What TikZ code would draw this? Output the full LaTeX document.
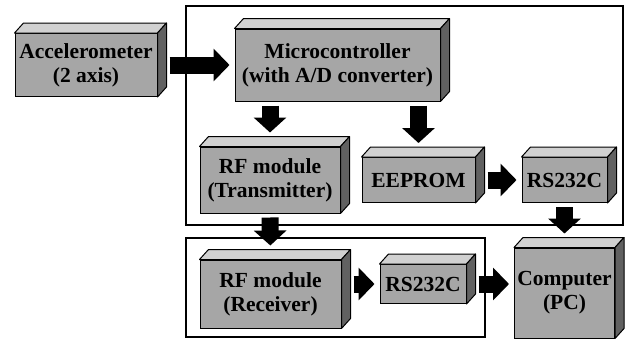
\documentclass[tikz,border=0pt]{standalone}
\usepackage{fontspec}
\setmainfont{Liberation Serif}
\usetikzlibrary{arrows.meta}
\usetikzlibrary{calc}
\usetikzlibrary{positioning}

\begin{document}
\begin{tikzpicture}
    [   x = 1pt, y = -1pt
    ,   block/.style = {draw, line width = 1pt, fill = black!35, inner sep = 0pt, align = center, font = \fontsize{21.5}{24}\selectfont\bfseries}
    ,   topface/.style = {draw, line width = 1pt, fill = black!18, line join = round}
    ,   sideface/.style = {draw, line width = 1pt, fill = black!62, line join = round}
    ,   boxframe/.style = {draw, line width = 2.5pt}
    ,   harrow/.style = {line width = 17pt, -{Triangle[length = 16pt, width = 32pt]}, shorten <= 12pt, shorten >= 5pt}
    ,   varrow/.style = {line width = 17pt, -{Triangle[length = 15pt, width = 32pt]}, shorten <= 4pt, shorten >= 14pt}
    ]
    \useasboundingbox (0,0) rectangle (626,340);

    \draw[boxframe] (186,6) rectangle (623,225);
    \draw[boxframe] (186,238) rectangle (485,337);

    \node[block, minimum width = 142pt, minimum height = 63pt] (acc) at (86,65) {Accelerometer\\(2 axis)};
    \node[block, minimum width = 205pt, minimum height = 72pt] (mcu) at (337.5,65) {Microcontroller\\(with A/D converter)};
    \node[block, minimum width = 140pt, minimum height = 66pt] (rftx) at (270,180) {RF module\\(Transmitter)};
    \node[block, minimum width = 113pt, minimum height = 45pt] (eeprom) at (418.5,180) {EEPROM};
    \node[block, minimum width = 85pt, minimum height = 45pt] (rstop) at (564.5,180) {RS232C};
    \node[block, minimum width = 100pt, minimum height = 90pt] (pc) at (564.5,293) {Computer\\(PC)};
    \node[block, minimum width = 141pt, minimum height = 68pt] (rfrx) at (270.5,294) {RF module\\(Receiver)};
    \node[block, minimum width = 86pt, minimum height = 39pt] (rsbot) at (423,284) {RS232C};

    % top and side faces
    \foreach\n in {acc,mcu,rftx,eeprom,rstop,pc,rfrx,rsbot}
    {
        \draw[topface] (\n.north west) -- ([shift={(9,-10)}]\n.north west)
            -- ([shift={(9,-10)}]\n.north east) -- (\n.north east) -- cycle;
        \draw[sideface] (\n.north east) -- ([shift={(9,-10)}]\n.north east)
            -- ([shift={(9,-10)}]\n.south east) -- (\n.south east) -- cycle;
    }

    \draw[harrow] (acc.east) -- (mcu.west);
    \draw[varrow] (rftx.north |- mcu.south) -- (rftx.north);
    \draw[varrow] (eeprom.north |- mcu.south) -- (eeprom.north);
    \draw[harrow] (eeprom.east) -- (rstop.west);
    \draw[varrow] (rstop.south) -- (pc.north);
    \draw[varrow] (rftx.south) -- (rfrx.north);
    \draw[harrow] (rfrx.east |- rsbot) -- (rsbot.west);
    \draw[harrow] (rsbot.east) -- (rsbot.east -| pc.west);
\end{tikzpicture}
\end{document}
